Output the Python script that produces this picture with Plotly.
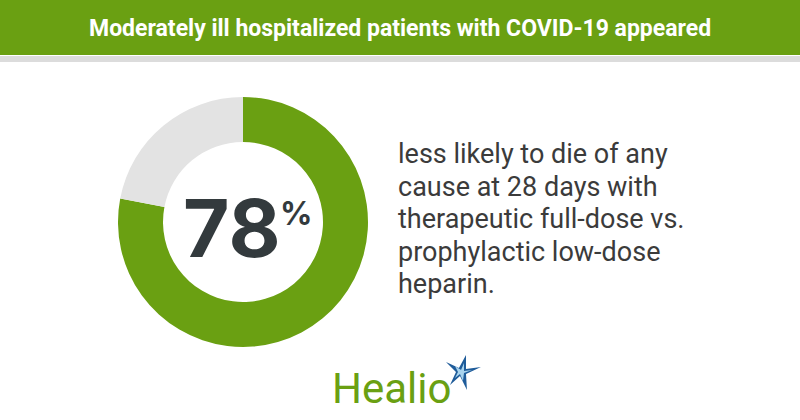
import plotly.graph_objects as go

title = "Moderately ill hospitalized patients with COVID-19 appeared"
labels = ["Less likely", "Remainder"]
values = [78, 22]
colors = ["#6aa012", "#e3e3e3"]
big_value = "78"
body_lines = [
    "less likely to die of any",
    "cause at 28 days with",
    "therapeutic full-dose vs.",
    "prophylactic low-dose",
    "heparin.",
]

W, H = 800, 420
def py(y):  # pixel-from-top -> paper
    return 1 - y / H
def px(x):
    return x / W

fig = go.Figure()
fig.add_trace(go.Pie(
    labels=labels, values=values, hole=0.64, sort=False,
    direction="clockwise", rotation=0,
    marker=dict(colors=colors, line=dict(width=0)),
    textinfo="none", hoverinfo="none", showlegend=False,
    domain=dict(x=[px(118), px(368)], y=[py(347), py(97)]),
))

shapes = [
    dict(type="rect", xref="paper", yref="paper", x0=0, x1=1, y0=py(55), y1=1,
         fillcolor="#6aa012", line=dict(width=0), layer="below"),
    dict(type="rect", xref="paper", yref="paper", x0=0, x1=1, y0=py(62), y1=py(56),
         fillcolor="#dcdcdc", line=dict(width=0), layer="below"),
]
# Healio star logo (pixel coords converted)
def pth(pts):
    return "M " + " L ".join(f"{px(x):.4f},{py(y):.4f}" for x, y in pts) + " Z"
star = [(446, 362), (459, 368), (466, 355), (466, 369), (481, 367), (466, 374),
        (467, 390), (460, 376), (450, 385), (456, 372)]
shapes.append(dict(type="path", xref="paper", yref="paper", path=pth(star),
                   fillcolor="#1f5c9a", line=dict(width=0)))
inner = [(455, 366), (461, 370), (464, 363), (464, 371), (472, 370), (464, 373),
         (463, 381), (460, 374), (455, 378), (458, 372)]
shapes.append(dict(type="path", xref="paper", yref="paper", path=pth(inner),
                   fillcolor="#a9d4ee", line=dict(width=0)))

annotations = [
    dict(text=f"<b>{title}</b>", x=0.5, y=py(29), xref="paper", yref="paper",
         showarrow=False, xanchor="center", yanchor="middle",
         font=dict(family="Roboto", size=23, color="white")),
    dict(text=f"<b>{big_value}</b>", x=px(231), y=py(227), xref="paper", yref="paper",
         showarrow=False, xanchor="center", yanchor="middle",
         font=dict(family="Inter", size=80, color="#333a3d")),
    dict(text="<b>%</b>", x=px(296), y=py(213), xref="paper", yref="paper",
         showarrow=False, xanchor="center", yanchor="middle",
         font=dict(family="Inter", size=32, color="#333a3d")),
    dict(text="Healio", x=px(391), y=py(388), xref="paper", yref="paper",
         showarrow=False, xanchor="center", yanchor="middle",
         font=dict(family="Roboto", size=42, color="#6aa012")),
]
for i, line in enumerate(body_lines):
    annotations.append(dict(text=line, x=px(396), y=py(154 + i * 32.5), xref="paper", yref="paper",
                            showarrow=False, xanchor="left", yanchor="middle",
                            font=dict(family="Roboto", size=27, color="#3b3b3b")))

fig.update_layout(
    width=W, height=H, margin=dict(l=0, r=0, t=0, b=0),
    paper_bgcolor="white", plot_bgcolor="white",
    shapes=shapes, annotations=annotations,
)
fig.write_html("out.html")
